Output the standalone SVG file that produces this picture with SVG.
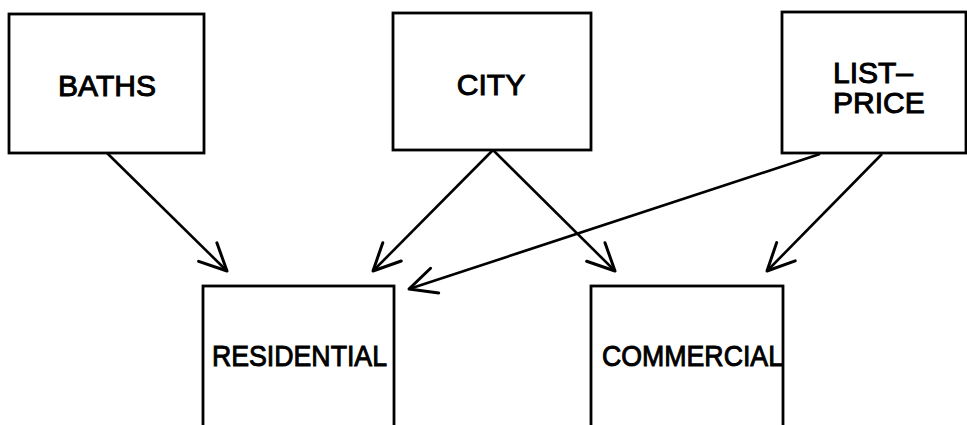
<svg xmlns="http://www.w3.org/2000/svg" width="967" height="425" viewBox="0 0 967 425">
  <style>
    .box { fill: #ffffff; stroke: #000000; stroke-width: 2.8; }
    .label { font-family: "Liberation Sans", Arial, sans-serif; font-size: 30px; fill: #000000; stroke: #000000; stroke-width: 1; }
    .edge { fill: none; stroke: #000000; stroke-width: 2.6; marker-end: url(#vee); }
  </style>
  <defs>
    <marker id="vee" markerUnits="userSpaceOnUse" markerWidth="40" markerHeight="40" refX="0" refY="0" viewBox="-32 -20 36 40" orient="auto">
      <path d="M -27,-13 L 0,0 L -27,13" fill="none" stroke="#000000" stroke-width="3" stroke-linecap="round" stroke-linejoin="round"/>
    </marker>
  </defs>
  <rect width="967" height="425" fill="#ffffff"/>

  <g id="node-baths">
    <rect class="box" x="9" y="14" width="195" height="139"/>
    <text class="label" x="107" y="96" text-anchor="middle">BATHS</text>
  </g>

  <g id="node-city">
    <rect class="box" x="393" y="13" width="198" height="137"/>
    <text class="label" x="491" y="95" text-anchor="middle">CITY</text>
  </g>

  <g id="node-list-price">
    <rect class="box" x="782" y="12" width="184" height="141"/>
    <text class="label" x="833" y="83">LIST–</text>
    <text class="label" x="833" y="113">PRICE</text>
  </g>

  <g id="node-residential">
    <rect class="box" x="203" y="286" width="191" height="160"/>
    <text class="label" x="212" y="366" font-size="29" textLength="175" lengthAdjust="spacingAndGlyphs">RESIDENTIAL</text>
  </g>

  <g id="node-commercial">
    <rect class="box" x="591" y="286" width="192" height="160"/>
    <text class="label" x="602" y="366" font-size="29" textLength="181" lengthAdjust="spacingAndGlyphs">COMMERCIAL</text>
  </g>

  <g id="connectors">
    <line class="edge" x1="107" y1="153" x2="227" y2="271"/>
    <line class="edge" x1="493" y1="150" x2="373" y2="271"/>
    <line class="edge" x1="493" y1="150" x2="615" y2="271"/>
    <line class="edge" x1="820" y1="154" x2="409" y2="289"/>
    <line class="edge" x1="882" y1="154" x2="767" y2="271"/>
  </g>
</svg>
